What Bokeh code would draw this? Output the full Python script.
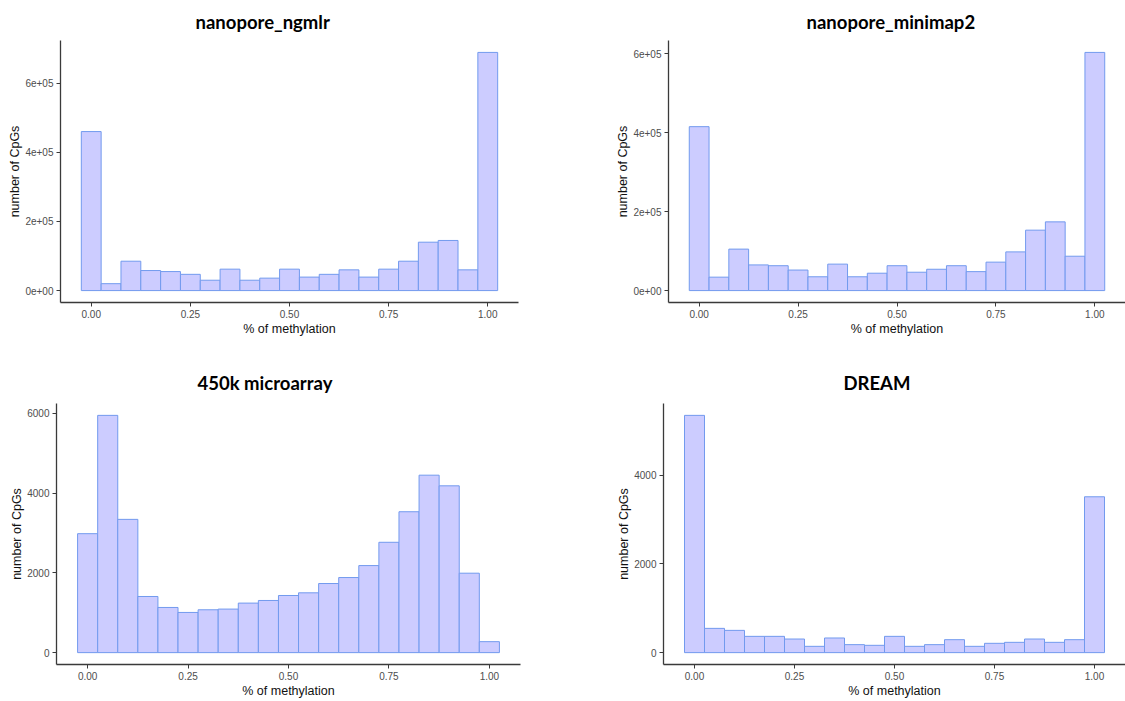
import numpy as np
from bokeh.plotting import figure
from bokeh.layouts import row, column
from bokeh.models import Range1d, FixedTicker
from bokeh.embed import file_html
from bokeh.resources import INLINE

# ---- data -------------------------------------------------------------
bin_centers = [round(i * 0.05, 2) for i in range(21)]

ngmlr_counts = [460000, 20000, 85000, 58000, 55000, 47000, 30000, 62000, 30000, 36000,
                62000, 39000, 47000, 60000, 39000, 62000, 85000, 140000, 145000, 60000, 689000]
minimap2_counts = [415000, 34000, 105000, 65000, 63000, 52000, 35000, 67000, 35000, 44000,
                   63000, 46500, 54000, 63000, 48000, 72000, 98000, 153000, 174000, 87000, 603000]
array450k_counts = [2983, 5950, 3342, 1408, 1133, 1008, 1075, 1092, 1242, 1308,
                    1433, 1500, 1733, 1883, 2183, 2767, 3533, 4450, 4183, 1992, 275]
dream_counts = [5348, 547, 502, 367, 367, 307, 142, 330, 180, 165,
                367, 142, 180, 292, 142, 210, 232, 307, 232, 292, 3513]

titles = ["nanopore_ngmlr", "nanopore_minimap2", "450k microarray", "DREAM"]

x_ticks = [0, 0.25, 0.5, 0.75, 1.0]
x_tick_labels = ["0.00", "0.25", "0.50", "0.75", "1.00"]

y_ticks_nano = [0, 200000, 400000, 600000]
y_tick_labels_nano = ["0e+00", "2e+05", "4e+05", "6e+05"]
y_ticks_array = [0, 2000, 4000, 6000]
y_tick_labels_array = ["0", "2000", "4000", "6000"]
y_ticks_dream = [0, 2000, 4000]
y_tick_labels_dream = ["0", "2000", "4000"]

x_label = "% of methylation"
y_label = "number of CpGs"

FILL = "#CCCCFF"
EDGE = "#729AEE"
AXIS = "#3a3a3a"


def make_panel(title, counts, yticks, ylabels, width, height, bl, br, bt, bb,
               title_offset, title_standoff):
    ymax = max(counts)
    p = figure(width=width, height=height,
               x_range=Range1d(-0.0775, 1.0775),
               y_range=Range1d(-0.05 * ymax, 1.05 * ymax),
               output_backend="svg", toolbar_location=None,
               min_border_left=bl, min_border_right=br,
               min_border_top=bt, min_border_bottom=bb)
    p.vbar(x=bin_centers, width=0.05, bottom=0, top=counts,
           fill_color=FILL, line_color=EDGE, line_width=1)

    p.title.text = title
    p.title.text_font = "Lato"
    p.title.text_font_style = "bold"
    p.title.text_font_size = "18.5px"
    p.title.text_color = "#000000"
    p.title.align = "left"
    p.title.vertical_align = "bottom"
    p.title.offset = title_offset
    p.title.standoff = title_standoff

    p.outline_line_color = None
    p.xgrid.grid_line_color = None
    p.ygrid.grid_line_color = None
    p.background_fill_color = "white"
    p.border_fill_color = "white"

    p.xaxis.ticker = FixedTicker(ticks=x_ticks)
    p.xaxis.major_label_overrides = dict(zip(x_ticks, x_tick_labels))
    p.yaxis.ticker = FixedTicker(ticks=yticks)
    p.yaxis.major_label_overrides = dict(zip(yticks, ylabels))
    p.xaxis.axis_label = x_label
    p.yaxis.axis_label = y_label

    for ax in (p.xaxis[0], p.yaxis[0]):
        ax.axis_line_color = AXIS
        ax.axis_line_width = 1.3
        ax.major_tick_line_color = AXIS
        ax.major_tick_line_width = 1
        ax.major_tick_out = 4
        ax.major_tick_in = 0
        ax.minor_tick_line_color = None
        ax.major_label_text_font = "Liberation Sans"
        ax.major_label_text_font_size = "10px"
        ax.major_label_text_color = "#4D4D4D"
        ax.major_label_standoff = 3
        ax.axis_label_text_font = "Liberation Sans"
        ax.axis_label_text_font_size = "12.5px"
        ax.axis_label_text_font_style = "normal"
        ax.axis_label_text_color = "#111111"
    p.xaxis[0].axis_label_standoff = 1
    p.yaxis[0].axis_label_standoff = 0
    return p


H_TOP = 358
H_BOT = 701 - H_TOP
W_LEFT = 560
W_RIGHT = 565

p1 = make_panel(titles[0], ngmlr_counts, y_ticks_nano, y_tick_labels_nano,
                W_LEFT, H_TOP, 60, 42, 39, H_TOP - 302, 135, 16)
p2 = make_panel(titles[1], minimap2_counts, y_ticks_nano, y_tick_labels_nano,
                W_RIGHT, H_TOP, 108, 0, 39, H_TOP - 302, 138, 16)
p3 = make_panel(titles[2], array450k_counts, y_ticks_array, y_tick_labels_array,
                W_LEFT, H_BOT, 56, 40, 403 - H_TOP, 37, 141, 20)
p4 = make_panel(titles[3], dream_counts, y_ticks_dream, y_tick_labels_dream,
                W_RIGHT, H_BOT, 103, 0, 403 - H_TOP, 37, 180, 20)

layout = column(row(p1, p2), row(p3, p4))

open("out.html", "w").write(file_html(layout, INLINE))
